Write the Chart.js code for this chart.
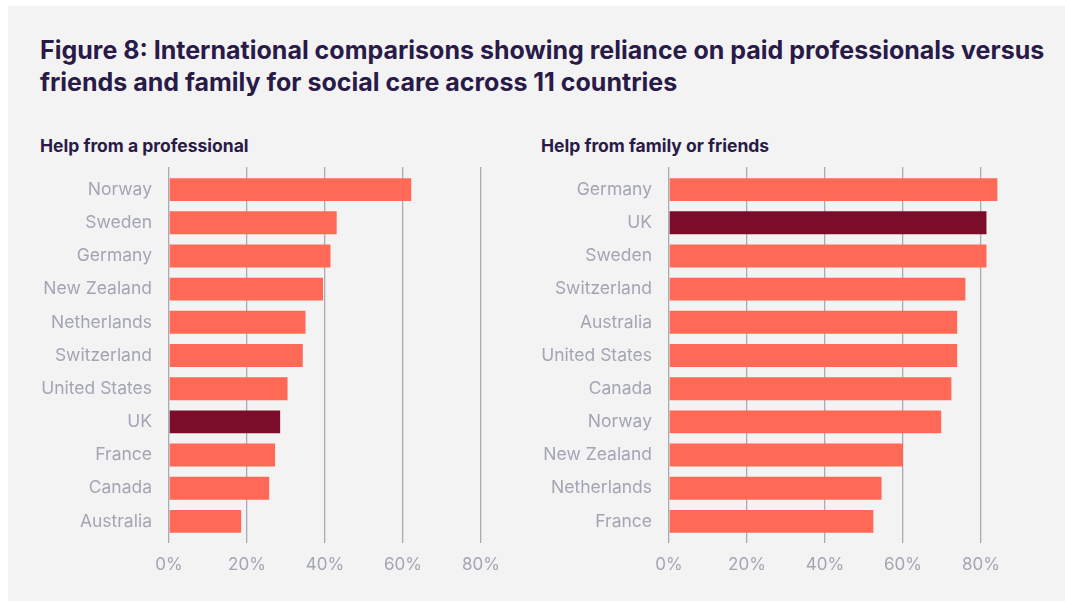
<!DOCTYPE html>
<html>
<head>
<meta charset="utf-8">
<script src="https://cdn.jsdelivr.net/npm/chart.js@4.4.1/dist/chart.umd.min.js"></script>
<style>
  body { margin: 0; width: 1065px; height: 601px; background: #ffffff; overflow: hidden; font-family: "Inter", sans-serif; }
  #panel { position: absolute; left: 8px; top: 6px; right: 0; bottom: 0; background: #f3f3f3; }
  h1 { position: absolute; left: 40px; top: 34px; margin: 0; font-size: 25px; line-height: 32px; font-weight: 700; color: #2a1a48; }
  .sub { position: absolute; top: 135px; margin: 0; font-size: 17.5px; font-weight: 700; color: #2a1a48; }
  .box { position: absolute; top: 160px; }
</style>
</head>
<body>
<div id="panel"></div>
<h1>Figure 8: International comparisons showing reliance on paid professionals versus<br>friends and family for social care across 11 countries</h1>
<div class="sub" style="left:40px">Help from a professional</div>
<div class="sub" style="left:541px">Help from family or friends</div>
<div class="box" style="left:20px"><canvas id="graficoProfesional" width="500" height="440"></canvas></div>
<div class="box" style="left:520px"><canvas id="graficoFamilia" width="500" height="440"></canvas></div>

<script>
/** Datos: ayuda de un profesional */
let paisesProf = ["Norway", "Sweden", "Germany", "New Zealand", "Netherlands", "Switzerland", "United States", "UK", "France", "Canada", "Australia"];
let valoresProf = [62.1, 43, 41.4, 39.5, 35, 34.3, 30.4, 28.5, 27.2, 25.7, 18.5];

/** Datos: ayuda de familia o amigos */
let paisesFam = ["Germany", "UK", "Sweden", "Switzerland", "Australia", "United States", "Canada", "Norway", "New Zealand", "Netherlands", "France"];
let valoresFam = [84.2, 81.4, 81.4, 76, 73.9, 73.9, 72.4, 69.8, 60, 54.5, 52.4];

/** Eje x */
let ticksEje = [0, 20, 40, 60, 80];

let colorBarra = "#ff6955";
let colorUK = "#7a0d2a";
let colorGrid = "#a9abb6";
let colorTexto = "#a3a5b3";

function coloresPara(paises) {
    return paises.map(p => p == "UK" ? colorUK : colorBarra);
}

function CrearGrafico(id, paises, valores) {
    const ctx = document.getElementById(id);
    new Chart(ctx, {
        type: "bar",
        data: {
            labels: paises,
            datasets: [{
                data: valores,
                backgroundColor: coloresPara(paises),
                borderWidth: 0,
                barPercentage: 0.69,
                categoryPercentage: 1,
                clip: false
            }]
        },
        options: {
            indexAxis: "y",
            responsive: false,
            animation: false,
            layout: { padding: { right: 39, left: 0, top: 0, bottom: 0 } },
            plugins: { legend: { display: false }, tooltip: { enabled: false } },
            scales: {
                x: {
                    position: "bottom",
                    min: 0,
                    max: 80,
                    afterBuildTicks: s => { s.ticks = ticksEje.map(v => ({ value: v })); },
                    border: { display: false },
                    grid: { color: colorGrid, lineWidth: 1.3, drawTicks: true, tickLength: 5 },
                    ticks: {
                        color: colorTexto,
                        padding: 12,
                        font: { family: "Inter", size: 17 },
                        callback: v => v + "%"
                    },
                    afterFit: s => { s.height = 62; }
                },
                x2: {
                    position: "top",
                    min: 0,
                    max: 80,
                    afterBuildTicks: s => { s.ticks = ticksEje.map(v => ({ value: v })); },
                    border: { display: false },
                    grid: { color: colorGrid, lineWidth: 1.3, drawOnChartArea: false, drawTicks: true, tickLength: 6 },
                    ticks: { display: false },
                    afterFit: s => { s.height = 13; }
                },
                y: {
                    border: { display: false },
                    grid: { display: false, drawTicks: false },
                    ticks: {
                        color: colorTexto,
                        padding: 17,
                        font: { family: "Inter", size: 17.5 }
                    },
                    afterFit: s => { s.width = 149; s.paddingTop = 0; s.paddingBottom = 0; }
                }
            }
        }
    });
}

CrearGrafico("graficoProfesional", paisesProf, valoresProf);
CrearGrafico("graficoFamilia", paisesFam, valoresFam);
</script>
</body>
</html>
